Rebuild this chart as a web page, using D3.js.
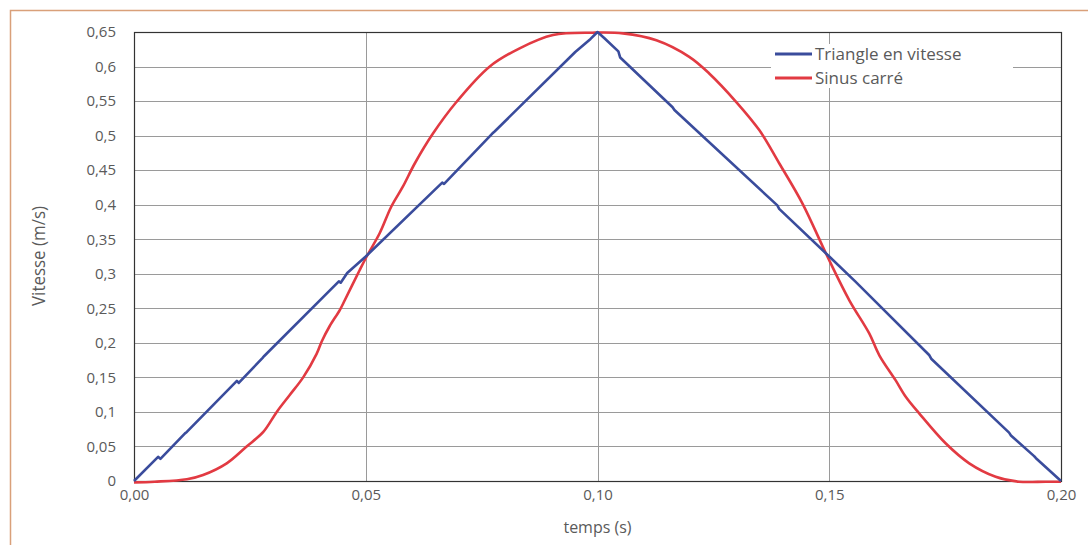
<!DOCTYPE html>
<html>
<head>
<meta charset="utf-8">
<script src="https://cdn.jsdelivr.net/npm/d3@7"></script>
<style>
  body { margin: 0; background: #fff; }
  text { font-family: "Open Sans", "Noto Sans", sans-serif; fill: #5a5a5a; }
</style>
</head>
<body>
<svg id="chart"></svg>
<script>
// x ticks (s) and y ticks (m/s)
var xTicks = [0, 0.05, 0.10, 0.15, 0.20];
var yTicks = [0, 0.05, 0.1, 0.15, 0.2, 0.25, 0.3, 0.35, 0.4, 0.45, 0.5, 0.55, 0.6, 0.65];

var seriesNames = ["Triangle en vitesse", "Sinus carré"];

// Triangle en vitesse (small steps included)
var triT = [0, 0.0052, 0.0057, 0.011, 0.0114, 0.0222, 0.0226, 0.0277, 0.0281, 0.0442, 0.0446, 0.046, 0.05,
  0.0665, 0.0669, 0.0773, 0.0778, 0.0952, 0.0985, 0.1, 0.1015, 0.1045, 0.1049, 0.1162, 0.1166,
  0.1388, 0.1392, 0.15, 0.1556, 0.1716, 0.172, 0.1888, 0.1892, 0.1942, 0.1946, 0.2];
var triV = [0, 0.035, 0.032, 0.069, 0.071, 0.145, 0.142, 0.178, 0.181, 0.289, 0.287, 0.301, 0.325,
  0.432, 0.43, 0.503, 0.506, 0.621, 0.64, 0.65, 0.641, 0.622, 0.613, 0.541, 0.537,
  0.399, 0.394, 0.325, 0.289, 0.182, 0.177, 0.07, 0.066, 0.036, 0.033, 0];

// Sinus carré
var sinT = [0, 0.0045, 0.0114, 0.0149, 0.02, 0.0243, 0.0279, 0.0308, 0.0336, 0.0365, 0.0394, 0.0405, 0.0422,
  0.0444, 0.0455, 0.0487, 0.0502, 0.053, 0.0555, 0.058, 0.0606, 0.0645, 0.0696, 0.0767, 0.0832, 0.0904, 0.099,
  0.1055, 0.1127, 0.1198, 0.1241, 0.1299, 0.1349, 0.1392, 0.1442, 0.1496, 0.1543, 0.1586, 0.1608, 0.1643,
  0.1665, 0.1694, 0.1751, 0.1802, 0.1859, 0.1909, 0.1967, 0.2];
var sinV = [-0.002, -0.001, 0.0025, 0.0087, 0.0256, 0.05, 0.071, 0.1, 0.1245, 0.15, 0.184, 0.202, 0.224,
  0.2475, 0.262, 0.3055, 0.325, 0.3586, 0.397, 0.426, 0.46, 0.503, 0.549, 0.5998, 0.6264, 0.6456, 0.649,
  0.648, 0.638, 0.614, 0.59, 0.549, 0.508, 0.46, 0.402, 0.325, 0.262, 0.214, 0.182, 0.146,
  0.122, 0.098, 0.0546, 0.0256, 0.0062, -0.001, -0.001, -0.001];

var width = 1088, height = 545;
var margin = {top: 32, right: 27, bottom: 64, left: 134};
var w = width - margin.left - margin.right,
    h = height - margin.top - margin.bottom;

var svg = d3.select("#chart").attr("width", width).attr("height", height);

// orange frame
svg.append("path")
  .attr("d", "M10.5," + height + "V10.5H" + width)
  .attr("fill", "none")
  .attr("stroke", "#d9a07a")
  .attr("stroke-width", 1.5);

var g = svg.append("g").attr("transform", "translate(" + margin.left + "," + margin.top + ")");

var x = d3.scaleLinear().domain([0, 0.2]).range([0, w]);
var y = d3.scaleLinear().domain([0, 0.65]).range([h, 0]);

var fmtY = function(d) { return d3.format("~g")(+d.toFixed(2)).replace(".", ","); };
var fmtX = function(d) { return d.toFixed(2).replace(".", ","); };

// grid
g.append("g").selectAll("line").data(yTicks).enter().append("line")
  .attr("x1", 0).attr("x2", w)
  .attr("y1", function(d) { return Math.round(y(d)) + 0.5; })
  .attr("y2", function(d) { return Math.round(y(d)) + 0.5; })
  .attr("stroke", "#9a9a9a").attr("stroke-width", 1);
g.append("g").selectAll("line").data(xTicks).enter().append("line")
  .attr("y1", 0).attr("y2", h)
  .attr("x1", function(d) { return Math.round(x(d)) + 0.5; })
  .attr("x2", function(d) { return Math.round(x(d)) + 0.5; })
  .attr("stroke", "#9a9a9a").attr("stroke-width", 1);

g.append("rect").attr("x", 0.5).attr("y", 0.5).attr("width", w).attr("height", h)
  .attr("fill", "none").attr("stroke", "#333").attr("stroke-width", 1.2);

// axes
var yAxis = g.append("g")
  .call(d3.axisLeft(y).tickValues(yTicks).tickFormat(fmtY).tickSize(0).tickPadding(18));
yAxis.select(".domain").remove();
yAxis.selectAll("text").style("font-size", "15px").attr("fill", "#5a5a5a");

var xAxis = g.append("g").attr("transform", "translate(0," + h + ")")
  .call(d3.axisBottom(x).tickValues(xTicks).tickFormat(fmtX).tickSize(0).tickPadding(8));
xAxis.select(".domain").remove();
xAxis.selectAll("text").style("font-size", "15px").attr("fill", "#5a5a5a");

svg.append("text")
  .attr("x", margin.left + w / 2).attr("y", 533)
  .attr("text-anchor", "middle").style("font-size", "16px")
  .text("temps (s)");

svg.append("text")
  .attr("transform", "translate(45," + 256 + ") rotate(-90)")
  .attr("text-anchor", "middle").style("font-size", "19px")
  .attr("textLength", 100).attr("lengthAdjust", "spacingAndGlyphs")
  .text("Vitesse (m/s)");

// series
var line = d3.line()
  .x(function(d) { return x(d[0]); })
  .y(function(d) { return y(d[1]); });
var smooth = d3.line()
  .curve(d3.curveCatmullRom)
  .x(function(d) { return x(d[0]); })
  .y(function(d) { return y(d[1]); });

var triData = triT.map(function(t, i) { return [t, triV[i]]; });
var sinData = sinT.map(function(t, i) { return [t, sinV[i]]; });
var colors = ["#3a4c9c", "#e23a42"];

g.append("path").datum(sinData).attr("d", smooth)
  .attr("fill", "none").attr("stroke", colors[1]).attr("stroke-width", 2.6)
  .attr("stroke-linejoin", "round");
g.append("path").datum(triData).attr("d", line)
  .attr("fill", "none").attr("stroke", colors[0]).attr("stroke-width", 2.6)
  .attr("stroke-linejoin", "round");

// legend
svg.append("rect").attr("x", 771).attr("y", 44).attr("width", 242).attr("height", 44).attr("fill", "#fff");
var leg = svg.append("g").selectAll("g").data(seriesNames).enter().append("g")
  .attr("transform", function(d, i) { return "translate(775," + (54 + i * 24) + ")"; });
leg.append("line").attr("x1", 0).attr("x2", 37).attr("y1", 0).attr("y2", 0)
  .attr("stroke", function(d, i) { return colors[i]; }).attr("stroke-width", 3);
leg.append("text").attr("x", 40).attr("y", 6).style("font-size", "17px").text(function(d) { return d; });
</script>
</body>
</html>
